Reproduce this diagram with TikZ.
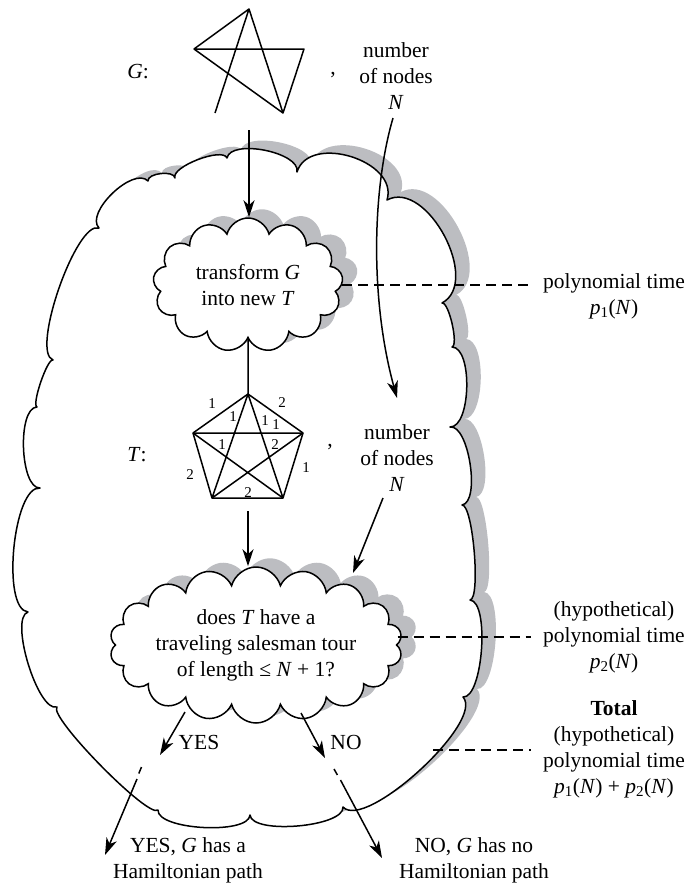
\documentclass[tikz,border=0pt]{standalone}
\usepackage{fontspec}
\setmainfont{Liberation Serif}
\usetikzlibrary{shapes.symbols,calc,arrows.meta,shadows}
\definecolor{shgray}{RGB}{188,189,193}
\begin{document}
\begin{tikzpicture}[x=1pt,y=-1pt,
  lab/.style={font=\fontsize{21.5}{26}\selectfont, inner sep=0pt, align=center},
  small/.style={font=\fontsize{15}{18}\selectfont, inner sep=0pt},
  ln/.style={line width=1.5pt, line join=round},
  arr/.style={line width=1.5pt, -{Stealth[length=17pt,width=11pt,inset=5pt]}},
  dsh/.style={line width=1.5pt, dash pattern=on 10pt off 6pt},
  cloudbox/.style={cloud, cloud ignores aspect, cloud puff arc=150, draw, fill=white, line width=1.5pt,
    inner sep=0pt, align=center, font=\fontsize{21.5}{26}\selectfont,
    copy shadow={shadow xshift=14pt, shadow yshift=8pt, fill=shgray, draw=shgray}},
  cb/.style n args={3}{insert path={.. controls ($(#1)!#3!90:(#2)$) and ($(#2)!#3!-90:(#1)$) .. (#2)}},
  bigcloud/.style={insert path={(c1) [cb={c1}{c2}{8pt}] [cb={c2}{c3}{12pt}] [cb={c3}{c4}{20pt}]
    [cb={c4}{c5}{41pt}] [cb={c5}{c6}{45pt}] [cb={c6}{c7}{7pt}] [cb={c7}{c8}{21pt}]
    [cb={c8}{c9}{19pt}] [cb={c9}{c10}{11pt}] [cb={c10}{c11}{20pt}] [cb={c11}{c12}{33pt}]
    [cb={c12}{c13}{20pt}] [cb={c13}{c14}{20pt}] [cb={c14}{c15}{13pt}] [cb={c15}{c16}{20pt}]
    [cb={c16}{c17}{27pt}] [cb={c17}{c18}{20pt}] [cb={c18}{c19}{6pt}] [cb={c19}{c20}{24pt}]
    [cb={c20}{c1}{21pt}] -- cycle}}
]
\useasboundingbox (0,0) rectangle (689,886);

% big cloud cusps
\coordinate (c1) at (148,181);
\coordinate (c2) at (175,178);
\coordinate (c3) at (227,158);
\coordinate (c4) at (297,172);
\coordinate (c5) at (387,200);
\coordinate (c6) at (442,303);
\coordinate (c7) at (452,347);
\coordinate (c8) at (450,427);
\coordinate (c9) at (462,505);
\coordinate (c10) at (470,600);
\coordinate (c11) at (463,697);
\coordinate (c12) at (343,807);
\coordinate (c13) at (250,815);
\coordinate (c14) at (158,810);
\coordinate (c15) at (57,707);
\coordinate (c16) at (28,612);
\coordinate (c17) at (40,488);
\coordinate (c18) at (37,407);
\coordinate (c19) at (53,360);
\coordinate (c20) at (99,228);

\path[fill=shgray, transform canvas={shift={(14pt,8pt)}}] [bigcloud];
\path[ln, draw, fill=white] [bigcloud];

% graph G
\coordinate (g1) at (249,9);
\coordinate (g2) at (194,49);
\coordinate (g3) at (304,49);
\coordinate (g4) at (283,113);
\coordinate (g5) at (215,113);
\draw[ln] (g5) -- (g1) -- (g2) -- (g3) -- (g4) -- (g2);
\draw[ln] (g1) -- (g4);
\node[lab] (Glab) at (138,72) {\textit{G}:};
\node[lab, anchor=base] (cm1) at (333,74) {,};
\node[lab] (nA) at (396,76) {number\\of nodes\\\textit{N}};

% clouds
\node[cloudbox, cloud puffs=13, minimum width=190pt, minimum height=134pt] (tr) at (248,285)
  {transform \textit{G}\\into new \textit{T}};
\node[cloudbox, cloud puffs=18, minimum width=292pt, minimum height=156pt] (dt) at (256,645)
  {does \textit{T} have a\\traveling salesman tour\\of length ≤ \textit{N} + 1?};

% graph T
\coordinate (p1) at (248,394);
\coordinate (p2) at (193,433);
\coordinate (p3) at (303,433);
\coordinate (p4) at (212,498);
\coordinate (p5) at (283,498);
\draw[ln] (p1) -- (p2) -- (p4) -- (p5) -- (p3) -- cycle;
\draw[ln] (p1) -- (p4) (p1) -- (p5) (p2) -- (p3) (p2) -- (p5) (p3) -- (p4);
\node[small] (w1) at (212,404) {1};
\node[small] (w2) at (282,403) {2};
\node[small] (w3) at (233,417) {1};
\node[small] (w4) at (265,421) {1};
\node[small] (w5) at (276,425) {1};
\node[small] (w6) at (222,445) {1};
\node[small] (w7) at (275,445) {2};
\node[small] (w8) at (306,468) {1};
\node[small] (w9) at (190,475) {2};
\node[small] (w10) at (248,493) {2};
\node[lab] (Tlab) at (137,455) {\textit{T}:};
\node[lab, anchor=base] (cm2) at (330,446) {,};
\node[lab] (nB) at (397,458) {number\\of nodes\\\textit{N}};

% right labels
\node[lab] (pt1) at (614,296) {polynomial time\\\textit{p}\textsubscript{1}(\textit{N})};
\node[lab] (pt2) at (614,637) {(hypothetical)\\polynomial time\\\textit{p}\textsubscript{2}(\textit{N})};
\node[lab] (pt3) at (614,749) {\textbf{Total}\\(hypothetical)\\polynomial time\\\textit{p}\textsubscript{1}(\textit{N}) + \textit{p}\textsubscript{2}(\textit{N})};

% bottom labels
\node[lab] (yes) at (199,742) {YES};
\node[lab] (no) at (346,742) {NO};
\node[lab] (yesr) at (188,860) {YES, \textit{G} has a\\Hamiltonian path};
\node[lab] (nor) at (474,860) {NO, \textit{G} has no\\Hamiltonian path};

% connectors
\coordinate (g0) at (249,130);
\draw[arr] (g0) -- (g0 |- tr.north);
\draw[ln] (tr.south) -- (p1);
\coordinate (p0) at (248,511);
\draw[arr] (p0) -- (p0 |- dt.north);
\coordinate (cs) at (393,118);
\coordinate (ce) at (397,398);
\draw[arr] (cs) .. controls (372,190) and (370,300) .. (ce);
\coordinate (nb0) at (383,498);
\coordinate (nb1) at (353,573);
\draw[arr] (nb0) -- (nb1);

\draw[dsh] (tr.east) -- ([xshift=-12pt]tr.east -| pt1.west);
\draw[dsh] (pt2.west -| dt.east) -- ([xshift=-12pt]pt2.west);
\coordinate (bt) at (433,750);
\draw[dsh] (bt) -- ([xshift=-12pt]bt -| pt3.west);

\coordinate (ya) at (185,712);
\coordinate (yb) at (160,755);
\coordinate (yd1) at (141.5,767);
\coordinate (yd2) at (138.8,773.5);
\coordinate (yc) at (137,779);
\coordinate (ye) at (105,855);
\draw[arr] (ya) -- (yb);
\draw[ln] (yd1) -- (yd2);
\draw[arr] (yc) -- (ye);
\coordinate (na) at (301,713);
\coordinate (nb) at (325,758);
\coordinate (nd1) at (334,769);
\coordinate (nd2) at (337.4,775);
\coordinate (nc) at (340.5,780);
\coordinate (ne) at (382,858);
\draw[arr] (na) -- (nb);
\draw[ln] (nd1) -- (nd2);
\draw[arr] (nc) -- (ne);
\end{tikzpicture}
\end{document}
